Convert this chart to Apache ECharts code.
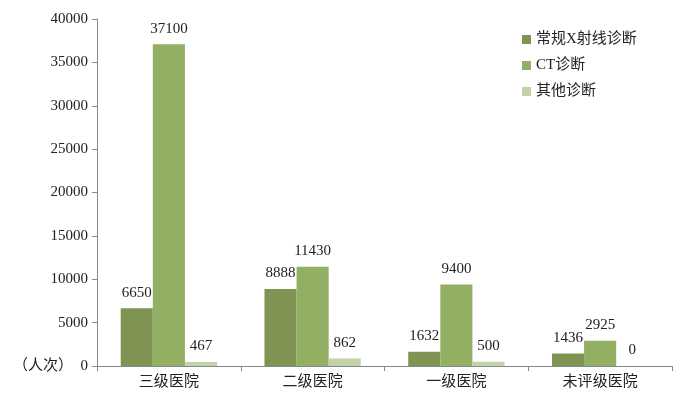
<!DOCTYPE html>
<html><head><meta charset="utf-8">
<script src="https://cdn.jsdelivr.net/npm/echarts@6/dist/echarts.min.js"></script>
<style>html,body{margin:0;padding:0;background:#fff}#c{width:692px;height:397px}</style>
</head><body><div id="c"></div>
<script>
const categories = ['三级医院', '二级医院', '一级医院', '未评级医院'];
const seriesNames = ['常规X射线诊断', 'CT诊断', '其他诊断'];
const xrayValues = [6650, 8888, 1632, 1436];
const ctValues = [37100, 11430, 9400, 2925];
const otherValues = [467, 862, 500, 0];
const yTicks = [0, 5000, 10000, 15000, 20000, 25000, 30000, 35000, 40000];

const colors = ['#7f9453', '#92af63', '#c2d2aa'];
const font = '"Liberation Serif", "Noto Sans CJK SC", serif';
const chart = echarts.init(document.getElementById('c'));
const mk = (name, data, i) => ({
  name, type: 'bar', data, barGap: '0%', barCategoryGap: '33%',
  itemStyle: {color: colors[i]},
  label: {show: true, position: 'top', distance: 8, color: '#222', fontFamily: font, fontSize: 15}
});
chart.setOption({
  animation: false,
  textStyle: {fontFamily: font},
  grid: {left: 97, right: 20, top: 19, bottom: 31},
  legend: {
    orient: 'vertical', left: 517, top: 27, itemWidth: 9, itemHeight: 9, itemGap: 11,
    icon: 'rect', textStyle: {fontFamily: font, fontSize: 15, color: '#222'},
    data: seriesNames
  },
  xAxis: {
    type: 'category', data: categories,
    axisLine: {lineStyle: {color: '#888'}},
    axisTick: {show: true, alignWithLabel: false, length: 5, lineStyle: {color: '#888'}},
    axisLabel: {color: '#222', fontFamily: font, fontSize: 15, margin: 9}
  },
  yAxis: {
    type: 'value', min: yTicks[0], max: yTicks[yTicks.length - 1], interval: 5000,
    splitLine: {show: false},
    axisLine: {show: true, lineStyle: {color: '#888'}},
    axisTick: {show: true, length: 5, lineStyle: {color: '#888'}},
    axisLabel: {color: '#222', fontFamily: font, fontSize: 15, margin: 9,
      formatter: v => v === 0 ? '（人次）  0' : String(v)}
  },
  series: [mk(seriesNames[0], xrayValues, 0), mk(seriesNames[1], ctValues, 1), mk(seriesNames[2], otherValues, 2)]
});
</script></body></html>
